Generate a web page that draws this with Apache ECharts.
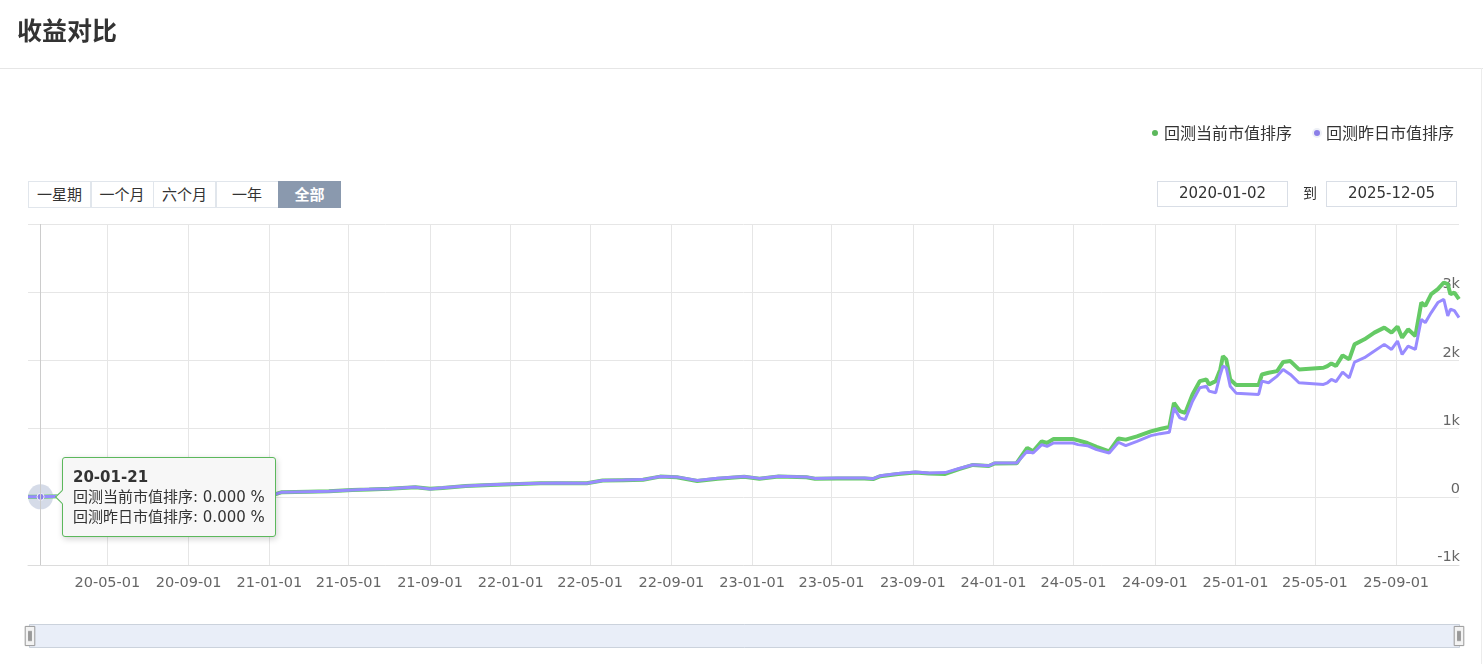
<!DOCTYPE html>
<html>
<head>
<meta charset="utf-8">
<script src="https://cdn.jsdelivr.net/npm/echarts@6/dist/echarts.min.js"></script>
<style>
html,body{margin:0;padding:0;background:#fff;}
#wrap{position:relative;width:1483px;height:664px;overflow:hidden;font-family:"Noto Sans CJK SC",sans-serif;}
#chart{position:absolute;left:0;top:0;width:1483px;height:664px;}
#title{position:absolute;left:17px;top:11px;font-size:25px;font-weight:bold;color:#333;line-height:36px;}
#hr{position:absolute;left:0;top:68px;width:1483px;height:1px;background:#e6e6e6;}
#vr{position:absolute;left:1481px;top:68px;width:1px;height:596px;background:#ececec;}
.btns{position:absolute;left:28px;top:181px;height:27px;}
.btn{position:absolute;top:0;width:63px;height:27px;box-sizing:border-box;border:1px solid #e1e6ec;background:#fff;color:#333;font-size:15px;line-height:23px;text-align:center;}
.btn.active{background:#8a99ae;border-color:#8a99ae;color:#fff;font-weight:bold;}
.date{position:absolute;top:181px;width:131px;height:26px;box-sizing:border-box;border:1px solid #d9dee6;color:#333;font-family:"DejaVu Sans",sans-serif;font-size:15px;line-height:23px;text-align:center;}
#to{position:absolute;left:1303px;top:181px;line-height:23px;font-size:14px;color:#333;}
</style>
</head>
<body>
<div id="wrap">
  <div id="chart"></div>
  <div id="title">收益对比</div>
  <div id="hr"></div>
  <div id="vr"></div>
  <div class="btns">
    <div class="btn" style="left:0px">一星期</div>
    <div class="btn" style="left:62.5px">一个月</div>
    <div class="btn" style="left:125px">六个月</div>
    <div class="btn" style="left:187.5px">一年</div>
    <div class="btn active" style="left:250px">全部</div>
  </div>
  <div class="date" style="left:1157px">2020-01-02</div>
  <div id="to">到</div>
  <div class="date" style="left:1326px">2025-12-05</div>
</div>
<script>
// ---- data ----
const seriesNames = ['回测当前市值排序', '回测昨日市值排序'];
const dates = [
 '2020-01-02','2020-01-21','2020-02-20','2020-04-10','2020-06-15','2020-08-20','2020-10-20','2020-12-10',
 '2021-01-08','2021-01-20','2021-03-01','2021-04-01','2021-05-06','2021-06-01','2021-07-01','2021-08-10',
 '2021-09-01','2021-09-20','2021-10-25','2021-12-01','2022-01-14','2022-02-15','2022-03-15','2022-04-26',
 '2022-05-20','2022-06-20','2022-07-20','2022-08-15','2022-09-09','2022-10-10','2022-11-10','2022-12-20',
 '2023-01-12','2023-02-10','2023-03-24','2023-04-06','2023-05-10','2023-06-20','2023-07-03','2023-07-14',
 '2023-08-10','2023-09-05','2023-09-25','2023-10-20','2023-11-10','2023-12-01','2023-12-25','2024-01-03',
 '2024-02-05','2024-02-08','2024-02-21','2024-03-01','2024-03-14','2024-03-22','2024-04-01','2024-04-30',
 '2024-05-08','2024-05-22','2024-06-05','2024-06-24','2024-07-08','2024-07-19','2024-08-05','2024-08-26',
 '2024-09-09','2024-09-23','2024-09-30','2024-10-09','2024-10-17','2024-10-28','2024-11-08','2024-11-18',
 '2024-11-22','2024-12-02','2024-12-09','2024-12-13','2024-12-18','2024-12-24','2025-01-02','2025-02-05',
 '2025-02-10','2025-02-20','2025-03-05','2025-03-14','2025-03-25','2025-04-07','2025-05-14','2025-05-20',
 '2025-05-26','2025-06-02','2025-06-12','2025-06-22','2025-06-30','2025-07-15','2025-07-30','2025-08-14',
 '2025-08-25','2025-09-03','2025-09-10','2025-09-19','2025-09-30','2025-10-09','2025-10-15','2025-10-24',
 '2025-11-03','2025-11-12','2025-11-18','2025-11-22','2025-11-28','2025-12-05'
];
// 回测当前市值排序 (%)
const currentRank = [
 0,0,8,15,20,24,27,30,
 32,68,75,80,100,108,118,140,
 118,130,158,172,188,198,200,198,
 238,244,250,296,288,233,266,294,
 266,296,286,266,268,270,260,302,
 333,356,340,335,405,468,452,490,
 492,500,716,667,814,789,848,848,
 828,789,731,667,855,838,887,960,
 995,1025,1378,1255,1230,1500,1696,1720,
 1647,1696,1868,2063,2015,1720,1640,1640,
 1794,1819,1843,1975,1990,1868,1892,1917,
 1956,1917,2074,2015,2235,2309,2407,2481,
 2407,2495,2333,2456,2357,2848,2799,2971,
 3044,3142,3118,2971,2995,2897
];
// 回测昨日市值排序 (%)
const prevRank = [
 0,0,8,15,20,24,27,30,
 32,68,75,80,100,110,118,142,
 116,132,160,175,190,200,201,200,
 240,246,252,299,292,238,272,299,
 270,302,292,270,274,275,265,308,
 340,365,350,355,415,470,456,495,
 495,498,667,642,765,740,789,789,
 765,750,691,642,800,750,814,897,
 926,946,1304,1157,1132,1402,1598,1622,
 1549,1525,1794,1916,1892,1622,1520,1500,
 1696,1672,1770,1868,1794,1672,1647,1672,
 1720,1690,1828,1745,1975,2040,2137,2235,
 2160,2284,2088,2210,2162,2603,2554,2701,
 2848,2897,2652,2750,2730,2628
];
const xTickLabels = ['20-05-01','20-09-01','21-01-01','21-05-01','21-09-01','22-01-01','22-05-01','22-09-01',
 '23-01-01','23-05-01','23-09-01','24-01-01','24-05-01','24-09-01','25-01-01','25-05-01','25-09-01'];
const yTickValues = [-1000, 0, 1000, 2000, 3000, 4000];
const xRange = ['2020-01-02', '2025-12-05'];
const hoverIndex = 1; // tooltip shown at 20-01-21
const colors = ['#5cb85c', '#8b7fe8'];

// ---- helpers ----
function parseFull(s){ const p = s.split('-').map(Number); return new Date(p[0], p[1]-1, p[2]).getTime(); }
function parseShort(s){ const p = s.split('-').map(Number); return new Date(2000+p[0], p[1]-1, p[2]).getTime(); }
function pad(n){ return (n<10?'0':'')+n; }
function fmtShort(v){ const d = new Date(v); return pad(d.getFullYear()%100)+'-'+pad(d.getMonth()+1)+'-'+pad(d.getDate()); }
const tickTs = xTickLabels.map(parseShort);
const dateTs = dates.map(parseFull);

const chart = echarts.init(document.getElementById('chart'), null, {renderer:'canvas'});
const option = {
  animation: false,
  color: colors,
  legend: {
    data: seriesNames, right: 24, top: 120, icon: 'circle', itemWidth: 8, itemHeight: 8, itemGap: 20,
    textStyle: {fontSize: 16, color: '#333', fontFamily: 'Noto Sans CJK SC'}
  },
  grid: {left: 28, right: 24, top: 224, bottom: 99, containLabel: false, outerBoundsMode: 'none'},
  tooltip: {
    trigger: 'axis', alwaysShowContent: true, transitionDuration: 0,
    backgroundColor: '#f7f7f7', borderColor: '#5cb85c', borderWidth: 1, padding: [9, 10],
    textStyle: {color: '#333', fontSize: 15, fontFamily: 'DejaVu Sans, Noto Sans CJK SC'},
    extraCssText: 'border-radius:3px;box-shadow:1px 2px 6px rgba(0,0,0,0.18);line-height:20px;',
    axisPointer: {type: 'line', lineStyle: {color: '#cccccc', width: 1, type: 'solid'}, label: {show: false}},
    position: function(pt, params, dom, rect, size){ return [pt[0] + 21, pt[1] - size.contentSize[1] / 2]; },
    formatter: function(params){
      const ps = params.filter(p => p.seriesIndex < 2);
      if (!ps.length) return '';
      let h = '<div style="position:absolute;left:-6px;top:calc(50% - 5px);width:9px;height:9px;background:#f7f7f7;border-left:1px solid #5cb85c;border-bottom:1px solid #5cb85c;transform:rotate(45deg);"></div>';
      h += '<div style="font-weight:bold;">' + fmtShort(ps[0].value[0]) + '</div>';
      ps.forEach(p => { h += '<div>' + p.seriesName + ': ' + Number(p.value[1]).toFixed(3) + ' %</div>'; });
      return h;
    }
  },
  xAxis: {
    type: 'value', min: parseFull(xRange[0]), max: parseFull(xRange[1]), scale: true,
    axisLine: {show: true, onZero: false, lineStyle: {color: '#dcdcdc'}},
    axisTick: {show: false, customValues: tickTs},
    axisLabel: {customValues: tickTs, formatter: v => fmtShort(v), color: '#666', fontSize: 14.5,
      fontFamily: 'DejaVu Sans', margin: 11, hideOverlap: false, showMinLabel: true, showMaxLabel: true},
    splitLine: {show: true, lineStyle: {color: '#e6e6e6'}}
  },
  yAxis: {
    type: 'value', position: 'right', min: yTickValues[0], max: yTickValues[yTickValues.length-1], interval: 1000,
    axisLine: {show: false}, axisTick: {show: false},
    axisLabel: {inside: true, margin: -1, verticalAlign: 'bottom', showMaxLabel: false, color: '#666', fontSize: 14.5,
      fontFamily: 'DejaVu Sans', formatter: v => v === 0 ? '0' : (v / 1000) + 'k'},
    splitLine: {lineStyle: {color: '#e6e6e6'}}
  },
  dataZoom: [{
    type: 'slider', xAxisIndex: 0, left: 28, right: 24, top: 624, height: 24, start: 0, end: 100,
    showDataShadow: false, showDetail: false, brushSelect: false, moveHandleSize: 0,
    backgroundColor: 'rgba(0,0,0,0)', fillerColor: '#e9eef8', borderColor: '#cbd2dc',
    handleIcon: 'path://M0,0H10V20H0Z M3.5,5V15H4.5V5Z M5.5,5V15H6.5V5Z', handleSize: '80%',
    handleStyle: {color: '#f3f3f3', borderColor: '#999', borderWidth: 1}
  }],
  series: [
    {
      name: seriesNames[0], type: 'line', showSymbol: false, symbol: 'circle', symbolSize: 7,
      data: dateTs.map((t, i) => [t, currentRank[i]]),
      lineStyle: {width: 4, color: colors[0]}, itemStyle: {color: colors[0], borderColor: '#fff', borderWidth: 1},
      emphasis: {scale: false, lineStyle: {width: 4}, itemStyle: {color: colors[0], borderColor: '#fff', borderWidth: 1}}, z: 3
    },
    {
      name: seriesNames[1], type: 'line', showSymbol: false, symbol: 'circle', symbolSize: 7,
      data: dateTs.map((t, i) => [t, prevRank[i]]),
      lineStyle: {width: 3, color: colors[1]}, itemStyle: {color: colors[1], borderColor: '#eef0f6', borderWidth: 1},
      emphasis: {scale: false, lineStyle: {width: 3}, itemStyle: {color: colors[1], borderColor: '#eef0f6', borderWidth: 1}}, z: 4
    },
    {
      name: 'hover', type: 'scatter', silent: true, symbolSize: 25, z: 1,
      data: [[dateTs[hoverIndex], prevRank[hoverIndex]]],
      itemStyle: {color: 'rgba(150,166,198,0.5)'}, tooltip: {show: false}
    }
  ]
};
chart.setOption(option);
chart.dispatchAction({type: 'showTip', seriesIndex: 1, dataIndex: hoverIndex});
</script>
</body>
</html>
